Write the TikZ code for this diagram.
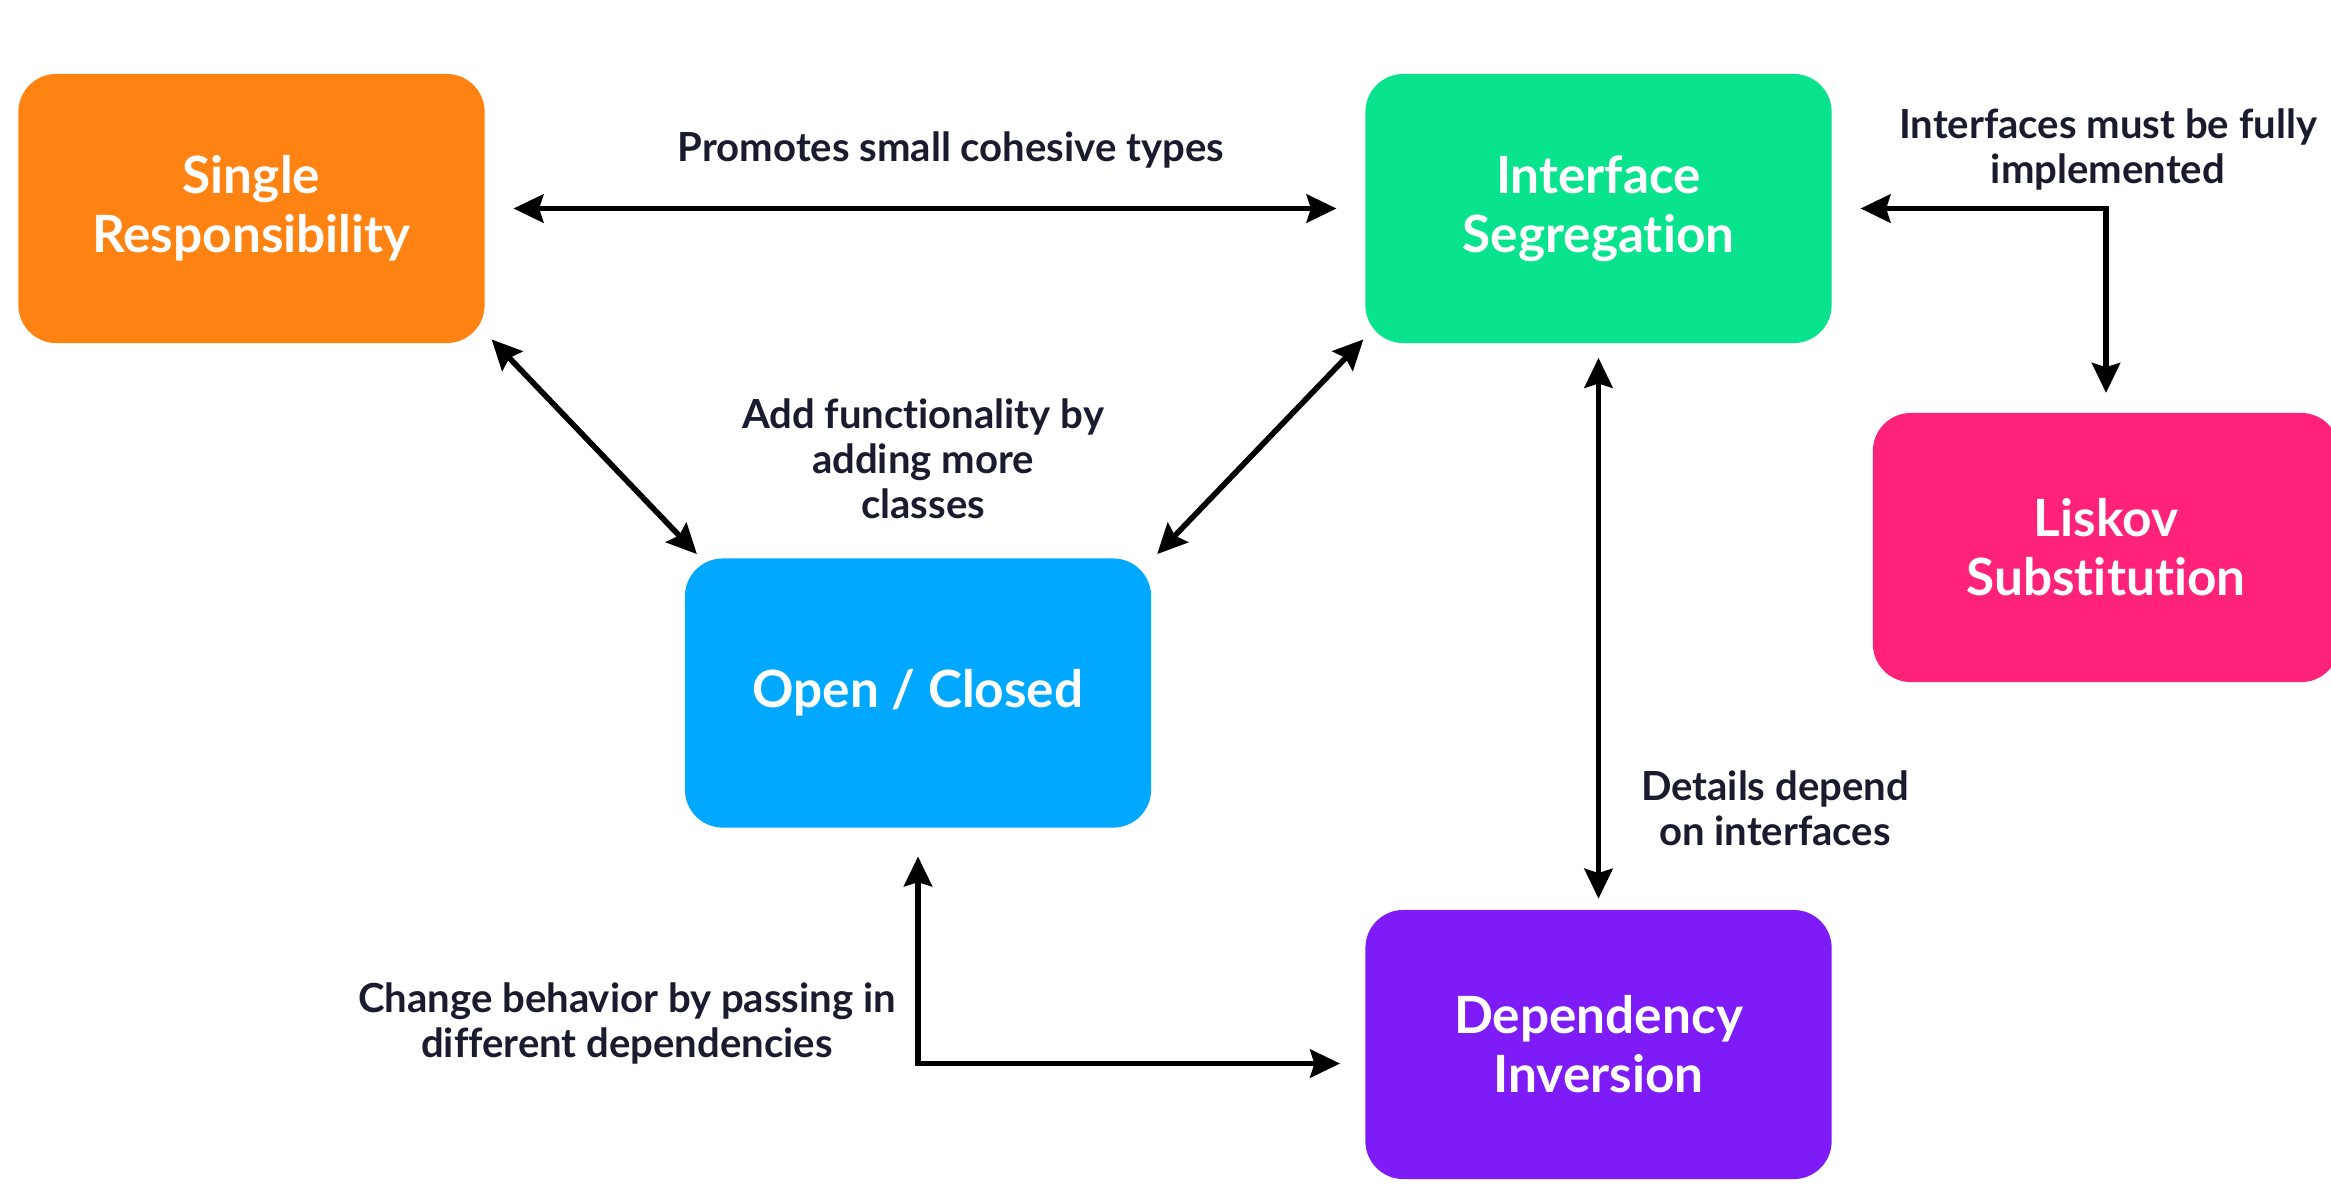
\documentclass[tikz,border=0pt]{standalone}
\usepackage{fontspec}
\setmainfont{Lato}[Ligatures={NoCommon}]
\usetikzlibrary{arrows.meta,calc}
\definecolor{cOrange}{HTML}{FF8312}
\definecolor{cGreen}{HTML}{0AE38D}
\definecolor{cPink}{HTML}{FF2279}
\definecolor{cBlue}{HTML}{00A8FF}
\definecolor{cPurple}{HTML}{7E1CF7}
\definecolor{cText}{HTML}{1B1B2F}
\tikzset{
  box/.style={rounded corners=0.38cm, minimum width=4.66cm, minimum height=2.69cm,
    text=white, align=center, inner sep=0pt,
    font=\fontsize{14.6}{16.8}\selectfont\bfseries},
  lbl/.style={text=cText, align=center, inner sep=0pt,
    font=\fontsize{11.4}{12.8}\selectfont\bfseries},
  arr/.style={line width=1.6pt, draw=black, {Stealth[length=8.5pt,width=8pt,inset=1.2pt]}-{Stealth[length=8.5pt,width=8pt,inset=1.2pt]}}
}
\begin{document}
\begin{tikzpicture}[x=0.01cm,y=-0.01cm]
\useasboundingbox (0,0) rectangle (2331,1196);
\fill[white] (0,0) rectangle (2331,1196);
% boxes
\node[box, fill=cOrange] (sr) at (251.5,208.5) {Single\\Responsibility};
\node[box, fill=cGreen] (is) at (1598.5,208.5) {Interface\\Segregation};
\node[box, fill=cPink] (lsk) at (2106,547.5) {Liskov\\Substitution};
\node[box, fill=cBlue] (oc) at (918,693) {Open / Closed};
\node[box, fill=cPurple] (di) at (1598.5,1044.5) {Dependency\\Inversion};
% labels
\node[lbl] (l1) at (951,150) {Promotes small cohesive types};
\node[lbl] (l2) at (923,459) {Add functionality by\\adding more\\classes};
\node[lbl] (l3) at (2108,149) {Interfaces must be fully\\implemented};
\node[lbl] (l4) at (1775,808) {Details depend\\on interfaces};
\node[lbl] (l5) at (627,1023) {Change behavior by passing in\\different dependencies};
% connectors
\draw[arr, shorten <=8pt, shorten >=8pt] (sr) -- (is);
\draw[arr, shorten <=3pt, shorten >=3pt] ([xshift=-0.01cm,yshift=0.12cm]sr.south east) -- ([xshift=0.2cm,yshift=-0.04cm]oc.north west);
\draw[arr, shorten <=3pt, shorten >=3pt] ([xshift=0.06cm,yshift=0.12cm]is.south west) -- ([xshift=-0.02cm,yshift=-0.04cm]oc.north east);
\draw[arr, shorten <=8pt, shorten >=5.5pt] (is.east) -| (lsk.north);
\draw[arr, shorten <=4pt, shorten >=3pt] (is.south) -- (di.north);
\draw[arr, shorten <=8pt, shorten >=7pt] (oc.south) |- ([yshift=-0.19cm]di.west);
\end{tikzpicture}
\end{document}
